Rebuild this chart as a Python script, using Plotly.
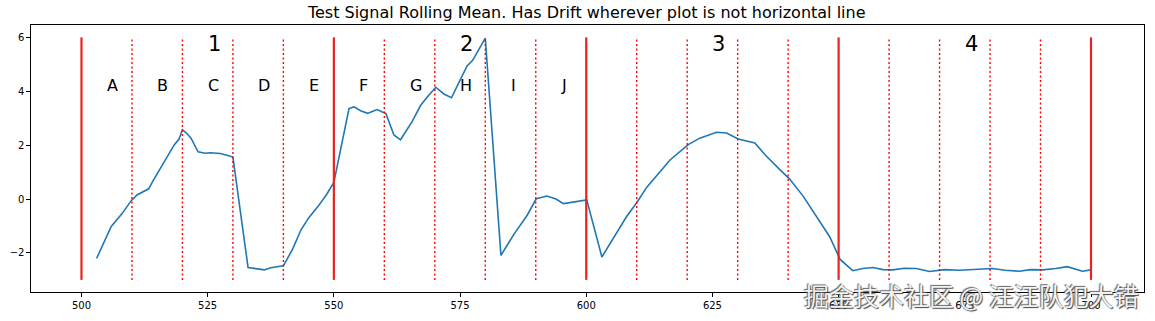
import plotly.graph_objects as go

# Rolling mean signal
sig_x = [503, 505.9, 508.0, 509.9, 511.0, 512.2, 513.3, 514.2, 516.5, 518.4, 519.3, 520, 520.8, 521.7, 523.1,
         524.5, 525.5, 526.3, 527.5, 529.0, 530, 533, 534.5, 536.2, 537.5, 538.9, 540, 541.8, 543.5,
         545.0, 546.8, 548.5, 550, 553, 554, 555.3, 556.7, 557.6, 558.6, 559.5, 560.3, 561.9, 563.2,
         565.5, 567.2, 568.8, 570.2, 571.8, 573.3, 575.1, 576.4, 577.5, 578.4, 580, 583.1, 585.6, 588.3,
         590.1, 592.2, 594.0, 595.5, 597.5, 600.1, 603.1, 606.1, 608.0, 610.1, 612, 616.6, 620.2, 622.5,
         625.8, 627.8, 630.1, 633.4, 635.7, 638.3, 640.3, 643.0, 645.6, 648.2, 650.3, 652.8, 654.8,
         656.8, 658.8, 660.7, 663.0, 665.4, 668, 671.0, 673.9, 677.0, 680.5, 683.0, 685.8, 688.0, 690.4,
         693.0, 695.3, 698.3, 700]
sig_y = [-2.2, -1.02, -0.55, -0.05, 0.15, 0.26, 0.38, 0.68, 1.41, 2.02, 2.22, 2.57, 2.45, 2.26, 1.75,
         1.70, 1.72, 1.70, 1.69, 1.62, 1.56, -2.54, -2.58, -2.63, -2.55, -2.51, -2.48, -1.87, -1.14,
         -0.70, -0.29, 0.15, 0.62, 3.36, 3.42, 3.28, 3.18, 3.25, 3.32, 3.24, 3.18, 2.38, 2.2,
         2.87, 3.48, 3.85, 4.15, 3.9, 3.76, 4.45, 4.94, 5.15, 5.43, 5.97, -2.09, -1.33, -0.6,
         0.01, 0.11, 0.0, -0.17, -0.10, -0.03, -2.15, -1.2, -0.65, -0.11, 0.44, 1.45, 2.02, 2.26,
         2.48, 2.45, 2.23, 2.08, 1.59, 1.1, 0.74, 0.10, -0.66, -1.39, -2.24, -2.66, -2.58,
         -2.54, -2.62, -2.63, -2.57, -2.58, -2.69, -2.62, -2.64, -2.62, -2.58, -2.64, -2.68, -2.62, -2.63,
         -2.58, -2.51, -2.68, -2.63]

major_lines = [500, 550, 600, 650, 700]
minor_lines = [510, 520, 530, 540, 560, 570, 580, 590, 610, 620, 630, 640, 660, 670, 680, 690]
line_low, line_high = -3, 6

letter_labels = ["A", "B", "C", "D", "E", "F", "G", "H", "I", "J"]
letter_x = [505, 515, 525, 535, 545, 555, 565, 575, 585, 595]
letter_y = 4
number_labels = ["1", "2", "3", "4"]
number_x = [525, 575, 625, 675]
number_y = 5.5

x_ticks = [500, 525, 550, 575, 600, 625, 650, 675, 700]
y_ticks = [-2, 0, 2, 4, 6]
y_tick_text = ["\u22122", "0", "2", "4", "6"]

title = "Test Signal Rolling Mean. Has Drift wherever plot is not horizontal line"
watermark = "掘金技术社区 @ 汪汪队犯大错"

fig = go.Figure()
fig.add_trace(go.Scatter(x=sig_x, y=sig_y, mode="lines",
                         line=dict(color="#1f77b4", width=1.6), showlegend=False, hoverinfo="skip"))
for v in minor_lines:
    fig.add_trace(go.Scatter(x=[v, v], y=[line_low, line_high], mode="lines",
                             line=dict(color="red", width=1.4, dash="2px,2.5px"),
                             showlegend=False, hoverinfo="skip"))
for v in major_lines:
    fig.add_trace(go.Scatter(x=[v, v], y=[line_low, line_high], mode="lines",
                             line=dict(color="#e8231f", width=2.2),
                             showlegend=False, hoverinfo="skip"))

anns = []
for t, x in zip(letter_labels, letter_x):
    anns.append(dict(x=x, y=letter_y, text=t, showarrow=False, xanchor="left", yanchor="bottom",
                     yshift=-6, xshift=-2,
                     font=dict(family="DejaVu Sans", size=16, color="black")))
for t, x in zip(number_labels, number_x):
    anns.append(dict(x=x, y=number_y, text=t, showarrow=False, xanchor="left", yanchor="bottom",
                     yshift=-7, xshift=-2,
                     font=dict(family="DejaVu Sans", size=21, color="black")))
anns.append(dict(x=1.0, y=0.0, xref="paper", yref="paper", text=watermark, showarrow=False,
                 xanchor="right", yanchor="middle", xshift=-3, yshift=-3,
                 font=dict(family="Noto Sans CJK SC", size=25, color="#f2f2f2",
                           shadow="1px 1px 1px #444, -1px -1px 1px #666")))

fig.update_layout(
    width=1155, height=321,
    margin=dict(l=29, r=10, t=25, b=24),
    paper_bgcolor="white", plot_bgcolor="white",
    title=dict(text=title, x=0.508, xanchor="center", y=0.96, yanchor="middle",
               font=dict(family="DejaVu Sans", size=16, color="black")),
    font=dict(family="DejaVu Sans", size=10, color="black"),
    annotations=anns,
    xaxis=dict(range=[490, 710.5], tickvals=x_ticks, showgrid=False, zeroline=False,
               showline=True, linecolor="black", linewidth=1.2, mirror=True,
               ticks="outside", ticklen=3.5, tickcolor="black", tickfont=dict(size=10)),
    yaxis=dict(range=[-3.45, 6.46], tickvals=y_ticks, ticktext=y_tick_text, showgrid=False,
               zeroline=False, showline=True, linecolor="black", linewidth=1.2, mirror=True,
               ticks="outside", ticklen=3.5, tickcolor="black", tickfont=dict(size=10)),
)

fig.write_html("out.html")
